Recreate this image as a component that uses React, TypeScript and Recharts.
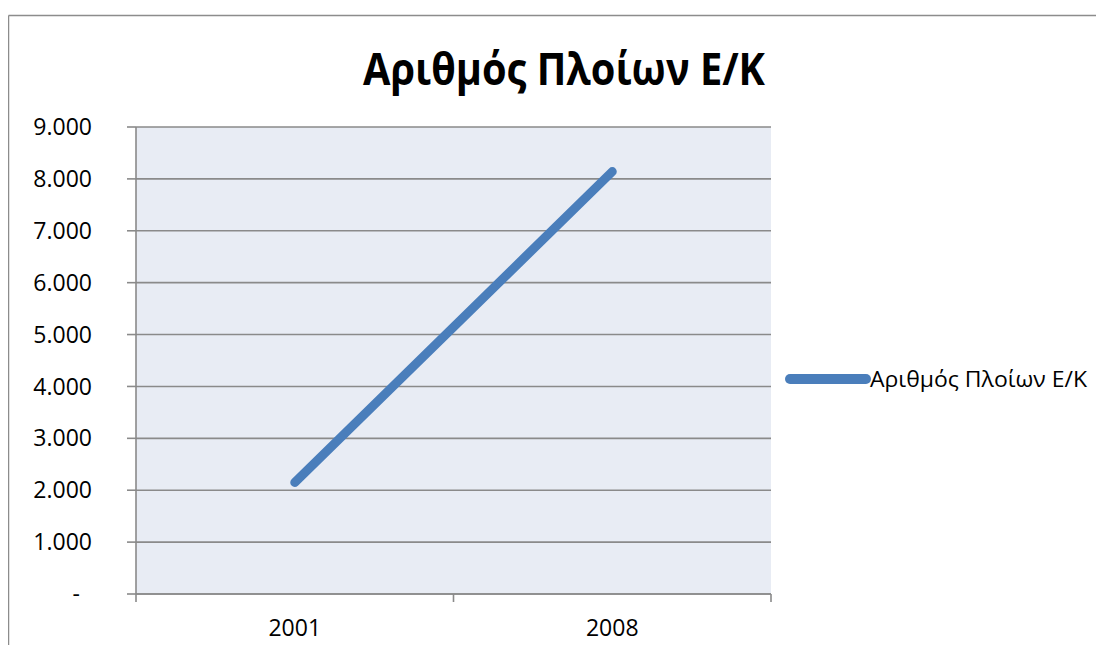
import React from 'react'
import { LineChart, Line, XAxis, YAxis, CartesianGrid } from 'recharts'

const TITLE = 'Αριθμός Πλοίων Ε/Κ'
const SERIES_NAME = 'Αριθμός Πλοίων Ε/Κ'
const YEARS: string[] = ['2001', '2008']
const SHIPS: number[] = [2150, 8140]
const Y_TICKS: number[] = [0, 1000, 2000, 3000, 4000, 5000, 6000, 7000, 8000, 9000]

const W = 1104
const H = 653
const PLOT_LEFT = 136
const PLOT_RIGHT = 771
const PLOT_TOP = 127
const PLOT_BOTTOM = 594
const X_AXIS_H = 40
const X_TICK_SIZE = 8
const X_TICK_MARGIN = 18
const BAND_HALF = (PLOT_RIGHT - PLOT_LEFT) / YEARS.length / 2

const LINE_COLOR = '#4a7ebb'
const GRID_COLOR = '#8a8a8a'
const FRAME_COLOR = '#8c8c8c'
const PLOT_FILL = '#e8ecf4'
const FONT = '"Open Sans", "Noto Sans", sans-serif'

const data = YEARS.map((year, i) => ({ year, ships: SHIPS[i] }))

// 9000 -> "9.000", zero shown as a dash (accounting style)
const fmt = (v: number) => String(v).replace(/\B(?=(\d{3})+(?!\d))/g, '.')

const YTick = ({ x, y, payload }: any) => {
  const zero = payload.value === 0
  return (
    <text
      x={zero ? x - 12 : x}
      y={y}
      dy="0.355em"
      textAnchor="end"
      fontFamily={FONT}
      fontSize={23}
      fill="#000"
    >
      {zero ? '-' : fmt(payload.value)}
    </text>
  )
}

// category labels sit in the middle of each band, tick marks on the band edges
const XTick = ({ x, y, payload, index }: any) => {
  const axisY = y - X_TICK_SIZE - X_TICK_MARGIN
  const last = index === YEARS.length - 1
  return (
    <g>
      <line x1={x - BAND_HALF} x2={x - BAND_HALF} y1={axisY} y2={axisY + X_TICK_SIZE} stroke={GRID_COLOR} strokeWidth={1.6} />
      {last && (
        <line x1={x + BAND_HALF} x2={x + BAND_HALF} y1={axisY} y2={axisY + X_TICK_SIZE} stroke={GRID_COLOR} strokeWidth={1.6} />
      )}
      <text x={x} y={y} dy="0.71em" textAnchor="middle" fontFamily={FONT} fontSize={23} fill="#000">
        {payload.value}
      </text>
    </g>
  )
}

export default function App() {
  return (
    <div
      style={{
        position: 'relative',
        width: W,
        height: H,
        margin: -8,
        overflow: 'hidden',
        background: '#fff',
      }}
    >
      <div style={{ position: 'absolute', left: 0, top: 0 }}>
        <LineChart
          width={W}
          height={H}
          data={data}
          margin={{ top: PLOT_TOP, right: W - PLOT_RIGHT, bottom: H - PLOT_BOTTOM - X_AXIS_H, left: 0 }}
        >
          <CartesianGrid vertical={false} fill={PLOT_FILL} stroke={GRID_COLOR} strokeWidth={1.6} />
          <XAxis
            dataKey="year"
            scale="band"
            interval={0}
            height={X_AXIS_H}
            tickSize={X_TICK_SIZE}
            tickMargin={X_TICK_MARGIN}
            tickLine={false}
            axisLine={{ stroke: GRID_COLOR, strokeWidth: 1.6 }}
            tick={<XTick />}
          />
          <YAxis
            width={PLOT_LEFT}
            domain={[0, 9000]}
            ticks={Y_TICKS}
            interval={0}
            tickSize={9}
            tickMargin={35}
            tickLine={{ stroke: GRID_COLOR, strokeWidth: 1.6 }}
            axisLine={{ stroke: GRID_COLOR, strokeWidth: 1.6 }}
            tick={<YTick />}
          />
          <Line
            type="linear"
            dataKey="ships"
            name={SERIES_NAME}
            stroke={LINE_COLOR}
            strokeWidth={9}
            strokeLinecap="round"
            dot={false}
            activeDot={false}
            isAnimationActive={false}
          />
        </LineChart>
      </div>
      <svg width={W} height={H} style={{ position: 'absolute', left: 0, top: 0, pointerEvents: 'none' }}>
        {/* chart frame: only its top and left edges fall inside the view */}
        <line x1={8.5} x2={W} y1={15.5} y2={15.5} stroke={FRAME_COLOR} strokeWidth={1.5} />
        <line x1={8.5} x2={8.5} y1={15.5} y2={H} stroke={FRAME_COLOR} strokeWidth={1.5} />
        <text
          x={363}
          y={85}
          fontFamily={FONT}
          fontWeight={700}
          fontSize={45}
          fill="#000"
          textLength={402}
          lengthAdjust="spacingAndGlyphs"
        >
          {TITLE}
        </text>
        <line x1={790} x2={866} y1={379} y2={379} stroke={LINE_COLOR} strokeWidth={10} strokeLinecap="round" />
        <text
          x={870}
          y={387}
          fontFamily={FONT}
          fontSize={22}
          fill="#000"
          textLength={217}
          lengthAdjust="spacingAndGlyphs"
        >
          {SERIES_NAME}
        </text>
      </svg>
    </div>
  )
}
